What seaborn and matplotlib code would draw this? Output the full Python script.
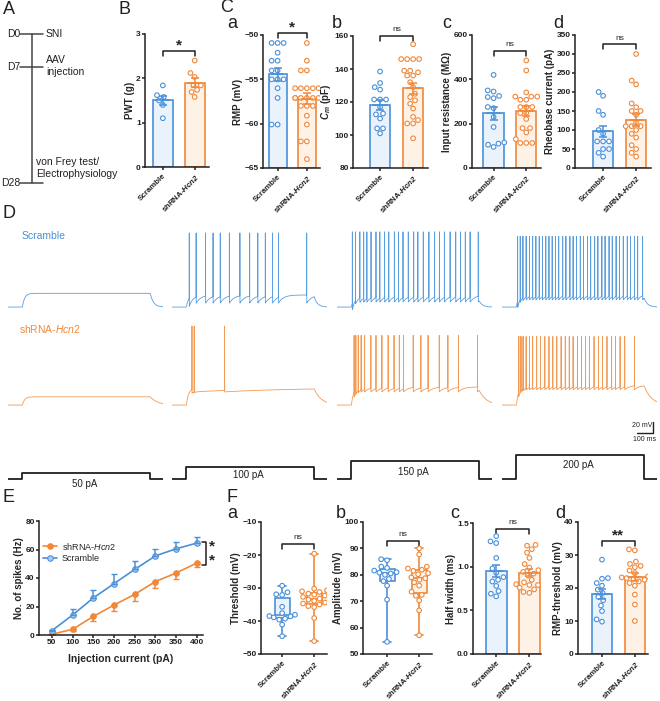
import numpy as np
import pandas as pd
import seaborn as sns
import matplotlib
matplotlib.use("Agg")
import matplotlib.pyplot as plt

# ---- data ----
groups = ["Scramble", "shRNA-Hcn2"]
tick_labels = ["Scramble", "shRNA-$\\mathbf{Hcn2}$"]

# B: paw withdrawal threshold (g)
pwt_scr = [1.84, 1.62, 1.58, 1.50, 1.40, 1.10]
pwt_shr = [2.40, 2.12, 2.03, 1.84, 1.84, 1.74, 1.69, 1.58]

# C: passive properties
rmp_scr = [-50.9, -50.9, -50.9, -52.0, -52.9, -52.9, -54.0, -54.0, -55.0, -55.0, -55.0, -56.0, -57.1, -60.1, -60.1]
rmp_shr = [-50.9, -52.9, -54.0, -54.0, -56.0, -56.0, -56.0, -56.0, -56.0, -57.1, -57.1, -57.1, -57.1, -57.1,
           -57.1, -58.0, -58.0, -58.0, -59.1, -60.1, -62.0, -62.0, -64.0]
cm_scr = [138.5, 131.5, 129, 127.5, 121.5, 121.5, 121.5, 117, 113, 112.5, 110, 104, 104, 101]
cm_shr = [155, 146, 146, 146, 146, 139, 139, 138, 136, 136, 132, 129, 125, 123, 121, 119, 116, 111, 109, 107, 107, 98]
ir_scr = [420, 350, 345, 325, 320, 315, 275, 270, 230, 185, 115, 110, 105, 95]
ir_shr = [485, 440, 341, 322, 322, 322, 308, 308, 275, 275, 275, 248, 248, 221, 180, 180, 160, 130, 113, 113, 113]
rheo_scr = [200, 190, 150, 140, 100, 90, 70, 70, 70, 50, 50, 40, 30]
rheo_shr = [300, 230, 220, 170, 160, 150, 150, 140, 120, 110, 110, 110, 100, 90, 80, 60, 50, 40, 30]

# E: spikes vs injected current
currents = [50, 100, 150, 200, 250, 300, 350, 400]
spikes_scr_mean = [3, 14, 26, 36, 46, 55.5, 60.5, 64.5]
spikes_scr_sem = [0.5, 4, 5.5, 6.5, 6, 5, 5, 4.5]
spikes_shr_mean = [0.5, 4, 13, 21, 28.5, 37.5, 43.5, 50.5]
spikes_shr_sem = [0.3, 1, 3.5, 4.5, 4.5, 4.5, 4, 3]

# F: action potential properties
thr_scr = [-29.3, -31.3, -31.9, -32.1, -35.7, -37.6, -38.1, -38.5, -38.6, -38.9, -39.3, -39.6, -41.1, -44.6]
thr_shr = [-19.6, -30.2, -30.7, -31.0, -31.2, -31.7, -32.0, -32.3, -32.7, -33.2, -33.5, -33.9, -34.4, -34.7,
           -35.0, -35.5, -35.8, -39.1, -46.1]
amp_scr = [85.9, 85.5, 83.1, 82.6, 81.6, 81.0, 80.8, 80.5, 80.0, 78.4, 77.6, 75.9, 70.6, 54.6]
amp_shr = [90.0, 87.7, 83.1, 82.4, 81.9, 81.5, 80.6, 80.2, 79.0, 78.7, 78.1, 77.1, 75.9, 73.6, 72.4, 72.1, 70.3,
           66.5, 57.1]
hw_scr = [1.35, 1.29, 1.27, 1.10, 0.98, 0.93, 0.88, 0.85, 0.83, 0.78, 0.72, 0.69, 0.66]
hw_shr = [1.25, 1.24, 1.20, 1.16, 1.10, 1.03, 0.99, 0.96, 0.94, 0.92, 0.90, 0.85, 0.82, 0.80, 0.79, 0.79, 0.76,
          0.74, 0.71, 0.70]
rt_scr = [28.6, 23.0, 22.8, 21.5, 20.7, 19.5, 18.5, 17.3, 16.3, 14.7, 13.0, 10.5, 9.8]
rt_shr = [31.7, 31.4, 28.0, 27.3, 26.7, 26.3, 25.3, 24.5, 23.5, 23.2, 23.0, 22.8, 22.5, 22.0, 21.5, 20.7, 18.0,
          15.0, 10.0]

# D: example traces (spike times in ms, levels in mV)
stim_pA = [50, 100, 150, 200]
stim_on, stim_off = 90, 890
rest_mv = -65
scr_spikes = [
    [],
    [108, 151, 210, 257, 302, 359, 425, 486, 537, 584, 629, 666, 843],
    [96, 116, 143, 167, 187, 213, 244, 268, 298, 324, 359, 385, 413, 446, 480, 506, 540, 575, 611, 641, 672,
     708, 743, 773, 803, 833, 884],
    [98, 114, 131, 151, 172, 192, 212, 233, 253, 274, 294, 314, 335, 355, 380, 400, 425, 445, 466, 490, 510,
     535, 555, 580, 600, 625, 645, 670, 690, 714, 735, 759, 784, 804, 829, 849, 880],
]
shr_spikes = [
    [],
    [125, 139, 329],
    [107, 118, 133, 151, 173, 212, 244, 281, 320, 357, 390, 416, 477, 525, 570, 640, 694, 760, 879],
    [104, 114, 125, 135, 151, 172, 192, 217, 241, 268, 294, 318, 343, 370, 396, 421, 445, 472, 498, 523, 547,
     576, 604, 629, 657, 686, 710, 739, 768, 829],
]
scr_plateau = [-40, -43, -43, -40]
shr_plateau = [-50, -34, -32, -29]
scr_peak = [70, 70, 72, 64]
shr_peak = [70, 79, 62, 60]
scr_ahp = [0, 15, 13, 12]
shr_ahp = [0, 7, 9, 8]

# ---- style ----
blue = "#4A90D9"
orange = "#F0883A"
trace_blue = "#5A9EDD"
trace_orange = "#F39A55"
light_blue = "#EAF2FB"
light_orange = "#FEF2E7"
dark = [blue, orange]
light = [light_blue, light_orange]
ink = "#231F20"

sns.set_style("ticks")
plt.rcParams["font.family"] = ["Liberation Sans", "DejaVu Sans"]
plt.rcParams["mathtext.fontset"] = "custom"
plt.rcParams["mathtext.rm"] = "Liberation Sans"
plt.rcParams["mathtext.it"] = "Liberation Sans:italic"
plt.rcParams["mathtext.bf"] = "Liberation Sans:bold:italic"
plt.rcParams["axes.edgecolor"] = ink
plt.rcParams["xtick.color"] = ink
plt.rcParams["ytick.color"] = ink

W, H = 660, 701
fig = plt.figure(figsize=(W / 100, H / 100), dpi=100)


def px_axes(x0, x1, y0, y1):
    return fig.add_axes([x0 / W, 1 - y1 / H, (x1 - x0) / W, (y1 - y0) / H])


def make_frame(scr, shr):
    return pd.DataFrame({"group": [groups[0]] * len(scr) + [groups[1]] * len(shr),
                         "value": list(scr) + list(shr)})


def style_axes(ax, ylim, yticks, ylabel, fmt=None):
    ax.set_ylim(ylim)
    ax.set_yticks(yticks)
    if fmt:
        ax.set_yticklabels([fmt % v for v in yticks])
    ax.set_ylabel(ylabel, fontsize=7, fontweight="bold", labelpad=1)
    sns.despine(ax=ax)
    for s in ["left", "bottom"]:
        ax.spines[s].set_linewidth(1.1)
    ax.tick_params(labelsize=6, width=1.1, length=2, pad=1)
    for lab in ax.get_yticklabels():
        lab.set_fontweight("bold")


def group_xaxis(ax, xlim):
    ax.set_xlim(xlim)
    ax.set_xticks([0, 1])
    ax.set_xticklabels(tick_labels, rotation=45, ha="right", rotation_mode="anchor",
                       fontsize=5.7, fontweight="bold")
    ax.tick_params(axis="x", length=2, pad=2)
    ax.set_xlabel("")


def open_points(ax, df):
    n0 = len(ax.collections)
    sns.swarmplot(data=df, x="group", y="value", hue="group", order=groups,
                  palette=dict(zip(groups, dark)), size=3.3, legend=False, ax=ax, zorder=3)
    for coll in ax.collections[n0:]:
        fc = coll.get_facecolors()
        coll.set_edgecolors(fc)
        coll.set_facecolors("white")
        coll.set_linewidth(0.8)


def bracket(ax, yfrac, text):
    tr = ax.get_xaxis_transform()
    ax.plot([0, 0, 1, 1], [yfrac - 0.035, yfrac, yfrac, yfrac - 0.035], color=ink, lw=1.1,
            transform=tr, clip_on=False)
    if text == "ns":
        ax.text(0.5, yfrac + 0.02, text, ha="center", va="bottom", fontsize=6, transform=tr)
    else:
        ax.text(0.5, yfrac - 0.01, text, ha="center", va="bottom", fontsize=11, fontweight="bold",
                transform=tr)


def bar_panel(box, xlim, scr, shr, ylim, yticks, ylabel, sig, sig_y, fmt=None):
    ax = px_axes(*box)
    df = make_frame(scr, shr)
    sns.barplot(data=df, x="group", y="value", hue="group", order=groups,
                palette=dict(zip(groups, light)), saturation=1, errorbar=None, width=0.62,
                legend=False, ax=ax)
    base = ylim[0]
    for p, c in zip(ax.patches, dark):
        top = p.get_y() + p.get_height()
        p.set_y(base)
        p.set_height(top - base)
        p.set_edgecolor(c)
        p.set_linewidth(1.2)
    open_points(ax, df)
    stats = df.groupby("group", sort=False)["value"].agg(["mean", "sem"])
    for i, g in enumerate(groups):
        m, s = stats.loc[g, "mean"], stats.loc[g, "sem"]
        ax.errorbar(i, m, yerr=s, color=dark[i], capsize=3, capthick=1.1, lw=1.1, zorder=4)
        ax.plot([i - 0.2, i + 0.2], [m, m], color=dark[i], lw=1.2, zorder=4)
    style_axes(ax, ylim, yticks, ylabel, fmt)
    group_xaxis(ax, xlim)
    bracket(ax, sig_y, sig)
    return ax


def box_panel(box, xlim, scr, shr, ylim, yticks, ylabel, sig, sig_y):
    ax = px_axes(*box)
    df = make_frame(scr, shr)
    for i, g in enumerate(groups):
        sns.boxplot(data=df[df.group == g], x="group", y="value", order=groups, color=light[i],
                    linecolor=dark[i], saturation=1, whis=(0, 100), width=0.47, linewidth=1.2,
                    fliersize=0, ax=ax)
    open_points(ax, df)
    style_axes(ax, ylim, yticks, ylabel)
    group_xaxis(ax, xlim)
    bracket(ax, sig_y, sig)
    return ax


# ---- overlay for letters and panel A diagram (pixel coordinates) ----
ov = fig.add_axes([0, 0, 1, 1])
ov.set_xlim(0, W)
ov.set_ylim(H, 0)
ov.axis("off")

for lab, x, y in [("A", 3, 10), ("B", 119, 10), ("C", 220, 8), ("D", 3, 214), ("E", 3, 498), ("F", 227, 497)]:
    ov.text(x, y, lab, fontsize=13, va="center", ha="left", color=ink)
for lab, x, y in [("a", 227, 23), ("b", 332, 23), ("c", 442, 23), ("d", 553, 23),
                  ("a", 227, 513), ("b", 336, 513), ("c", 450, 513), ("d", 555, 513)]:
    ov.text(x, y, lab, fontsize=13, va="center", ha="left", color=ink)

# timeline in A
line_c = "#4A4345"
ov.plot([32, 32], [34, 183], color=line_c, lw=1.1)
for day, y in [("D0", 34), ("D7", 67), ("D28", 183)]:
    ov.plot([20, 43], [y, y], color=line_c, lw=1.1)
    ov.text(20, y, day, ha="right", va="center", fontsize=7.5, color=ink)
ov.text(46, 34, "SNI", ha="left", va="center", fontsize=7.5, color=ink)
ov.text(46, 60, "AAV", ha="left", va="center", fontsize=7.5, color=ink)
ov.text(46, 72, "injection", ha="left", va="center", fontsize=7.5, color=ink)
ov.text(36, 162, "von Frey test/", ha="left", va="center", fontsize=7.5, color=ink)
ov.text(36, 174, "Electrophysiology", ha="left", va="center", fontsize=7.5, color=ink)

# ---- B and C ----
bar_panel((145, 209, 34, 167), (-0.56, 1.45), pwt_scr, pwt_shr, (0, 3), [0, 1, 2, 3], "PWT (g)", "*", 0.872)
bar_panel((263, 320, 35, 168), (-0.5, 1.45), rmp_scr, rmp_shr, (-65, -50), [-65, -60, -55, -50],
          "RMP (mV)", "*", 1.015)
bar_panel((353, 428, 36, 168), (-0.82, 1.45), cm_scr, cm_shr, (80, 160), [80, 100, 120, 140, 160],
          "$\\mathbf{C_m}$ (pF)", "ns", 1.0)
bar_panel((472, 541, 35, 168), (-0.66, 1.45), ir_scr, ir_shr, (0, 600), [0, 200, 400, 600],
          "Input resistance (M\u03a9)", "ns", 0.88)
bar_panel((575, 651, 35, 168), (-0.85, 1.45), rheo_scr, rheo_shr, (0, 350), list(range(0, 351, 50)),
          "Rheobase current (pA)", "ns", 0.93)

# ---- D: traces ----
col_x = [(8, 163), (172, 327), (337, 492), (502, 657)]
t = np.arange(0, 970, 0.5)


def make_trace(spikes, plateau, peak, ahp, tau_ahp, tau_off):
    v = np.full_like(t, float(rest_mv))
    on = (t >= stim_on) & (t < stim_off)
    v[on] = rest_mv + (plateau - rest_mv) * (1 - np.exp(-(t[on] - stim_on) / 14))
    if spikes:
        sp = np.array(spikes, dtype=float)
        idx = np.searchsorted(sp, t, side="right") - 1
        mask = (idx >= 0) & on
        dt = t[mask] - sp[idx[mask]]
        v[mask] -= ahp * np.exp(-dt / tau_ahp)
        for s in sp:
            v[np.argmin(np.abs(t - s))] = peak
    end_v = v[np.searchsorted(t, stim_off) - 1]
    off = t >= stim_off
    v[off] = rest_mv + (end_v - rest_mv) * np.exp(-(t[off] - stim_off) / tau_off)
    return v


for k in range(4):
    x0, x1 = col_x[k]
    ax1 = px_axes(x0, x1, 228, 312)
    v1 = make_trace(scr_spikes[k], scr_plateau[k], scr_peak[k], scr_ahp[k], 30, 20)
    sns.lineplot(x=t, y=v1, color=trace_blue, lw=0.6, ax=ax1)
    ax1.set_ylim(-74, 79)
    ax2 = px_axes(x0, x1, 320, 410)
    tau2 = 400 if k == 1 else 30
    v2 = make_trace(shr_spikes[k], shr_plateau[k], shr_peak[k], shr_ahp[k], tau2, 45)
    sns.lineplot(x=t, y=v2, color=trace_orange, lw=0.6, ax=ax2)
    ax2.set_ylim(-74, 90)
    ax3 = px_axes(x0, x1, 440, 485)
    ax3.plot([0, stim_on, stim_on, stim_off, stim_off, 970], [0, 0, stim_pA[k], stim_pA[k], 0, 0],
             color=ink, lw=1.3)
    ax3.set_ylim(-50, 325)
    label_y = [-38, 33, 58, 117][k]
    ax3.text(480, label_y, f"{stim_pA[k]} pA", ha="center", va="center", fontsize=7, color=ink)
    for a in (ax1, ax2, ax3):
        a.set_xlim(0, 970)
        a.axis("off")
    if k == 3:
        ax2.plot([844, 944, 944], [-116, -116, -96], color=ink, lw=1.0, clip_on=False)
        ax2.text(938, -103, "20 mV", ha="right", va="center", fontsize=5, color=ink)
        ax2.text(894, -122, "100 ms", ha="center", va="top", fontsize=5, color=ink)

ov.text(22, 236, "Scramble", color=blue, fontsize=7.5, va="center", ha="left")
ov.text(19, 329, "shRNA-$\\it{Hcn2}$", color=orange, fontsize=7.5, va="center", ha="left")

# ---- E ----
axE = px_axes(39, 203, 521, 635)
zeros = np.zeros(len(currents))
sns.lineplot(x=currents, y=spikes_shr_mean, color=orange, lw=1.2, marker="o", markersize=4,
             markerfacecolor=orange, markeredgecolor=orange, label="shRNA-$\\it{Hcn2}$", ax=axE)
sns.lineplot(x=currents, y=spikes_scr_mean, color=blue, lw=1.2, marker="o", markersize=4,
             markerfacecolor="#A9CBEE", markeredgecolor=blue, label="Scramble", ax=axE)
axE.errorbar(currents, spikes_shr_mean, yerr=[spikes_shr_sem, zeros], fmt="none", ecolor=orange,
             capsize=2, lw=1.1)
axE.errorbar(currents, spikes_scr_mean, yerr=[zeros, spikes_scr_sem], fmt="none", ecolor=blue,
             capsize=2, lw=1.1)
axE.set_xlim(19, 415)
axE.set_xticks(currents)
style_axes(axE, (0, 80), [0, 20, 40, 60, 80], "No. of spikes (Hz)")
for lab in axE.get_xticklabels():
    lab.set_fontweight("bold")
axE.set_xlabel("Injection current (pA)", fontsize=7.5, fontweight="bold", labelpad=6)
axE.legend(frameon=False, loc="upper left", bbox_to_anchor=(0.0, 0.86), fontsize=6.5,
           handlelength=1.6, labelspacing=0.3, borderaxespad=0, handletextpad=0.5)
axE.plot([412, 422, 422, 412], [65.3, 65.3, 49.1, 49.1], color=ink, lw=1.1, clip_on=False)
axE.text(437, 62, "*", ha="center", va="center", fontsize=11, fontweight="bold", clip_on=False)
axE.text(437, 52, "*", ha="center", va="center", fontsize=11, fontweight="bold", clip_on=False)

# ---- F ----
box_panel((261, 327, 522, 654), (-0.66, 1.4), thr_scr, thr_shr, (-50, -10), [-50, -40, -30, -20, -10],
          "Threshold (mV)", "ns", 0.833)
box_panel((363, 432, 522, 654), (-0.75, 1.4), amp_scr, amp_shr, (50, 100), [50, 60, 70, 80, 90, 100],
          "Amplitude (mV)", "ns", 0.856)
bar_panel((473, 541, 523, 654), (-0.7, 1.35), hw_scr, hw_shr, (0, 1.5), [0, 0.5, 1.0, 1.5],
          "Half width (ms)", "ns", 0.954, fmt="%.1f")
bar_panel((578, 648, 522, 654), (-0.73, 1.4), rt_scr, rt_shr, (0, 40), [0, 10, 20, 30, 40],
          "RMP-threshold (mV)", "**", 0.856)

fig.savefig("out.png", dpi=100)
